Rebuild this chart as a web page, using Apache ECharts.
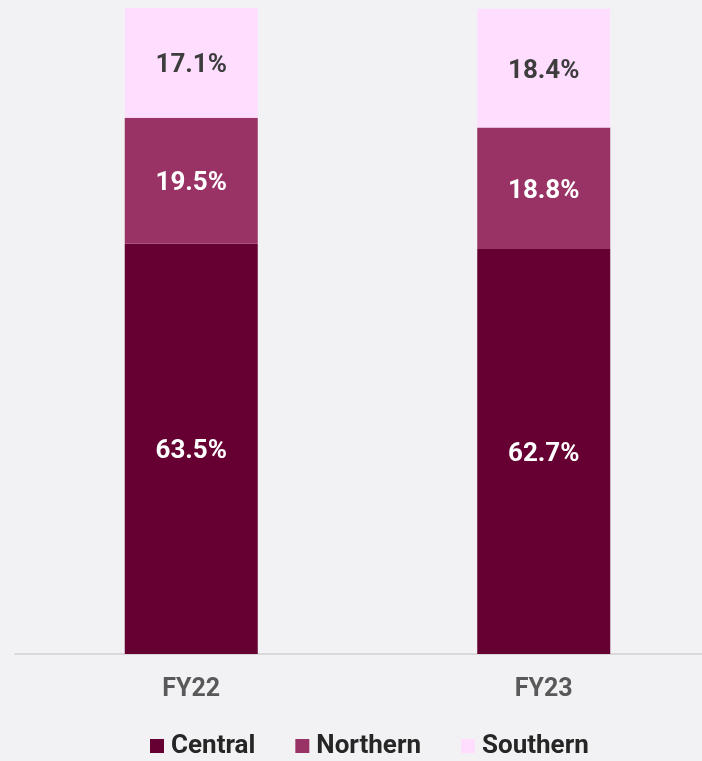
<!DOCTYPE html>
<html>
<head>
<meta charset="utf-8">
<script src="https://cdn.jsdelivr.net/npm/echarts@6/dist/echarts.min.js"></script>
<style>
html, body { margin: 0; padding: 0; background: #f2f2f4; overflow: hidden; }
#chart { width: 720px; height: 761px; }
</style>
</head>
<body>
<div id="chart"></div>
<script>
const categories = ['FY22', 'FY23'];
const central = [63.5, 62.7];
const northern = [19.5, 18.8];
const southern = [17.1, 18.4];

const myChart = echarts.init(document.getElementById('chart'));

const labelStyle = (color) => ({
  show: true,
  position: 'inside',
  offset: [0, 3],
  formatter: p => p.value.toFixed(1) + '%',
  color: color,
  fontFamily: 'Roboto',
  fontWeight: 'bold',
  fontSize: 26
});

const option = {
  backgroundColor: '#f2f2f4',
  animation: false,
  legend: {
    data: ['Central', 'Northern', 'Southern'],
    bottom: -3,
    left: 145,
    itemWidth: 14,
    itemHeight: 14,
    itemGap: 40,
    icon: 'rect',
    textStyle: {
      color: '#262626',
      fontFamily: 'Roboto',
      fontWeight: 'bold',
      fontSize: 26,
      padding: [0, 0, 0, 2]
    }
  },
  grid: {
    left: 15,
    right: 0,
    top: 8,
    bottom: 107
  },
  xAxis: {
    type: 'category',
    data: categories,
    axisLine: { lineStyle: { color: '#d9d9d9', width: 2 } },
    axisTick: { show: false },
    axisLabel: {
      margin: 23,
      color: '#595959',
      fontFamily: 'Roboto',
      fontWeight: 'bold',
      fontSize: 25
    }
  },
  yAxis: {
    type: 'value',
    min: 0,
    max: 100,
    show: false,
    splitLine: { show: false }
  },
  series: [
    {
      name: 'Central',
      type: 'bar',
      stack: 'share',
      barWidth: 133,
      itemStyle: { color: '#660033' },
      label: labelStyle('#ffffff'),
      data: central
    },
    {
      name: 'Northern',
      type: 'bar',
      stack: 'share',
      itemStyle: { color: '#993366' },
      label: labelStyle('#ffffff'),
      data: northern
    },
    {
      name: 'Southern',
      type: 'bar',
      stack: 'share',
      itemStyle: { color: '#ffddff' },
      label: labelStyle('#3d3d3d'),
      data: southern
    }
  ]
};

myChart.setOption(option);
</script>
</body>
</html>
